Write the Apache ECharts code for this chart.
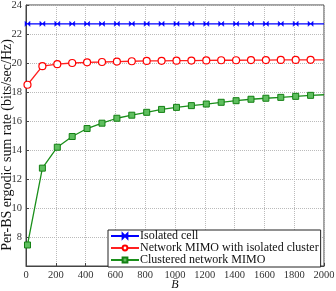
<!DOCTYPE html>
<html><head><meta charset="utf-8">
<script src="https://cdn.jsdelivr.net/npm/echarts@6/dist/echarts.min.js"></script>
<style>html,body{margin:0;padding:0;background:#fff}#c{width:336px;height:291px}</style>
</head><body><div id="c"></div>
<script>
var xVals = [10,110,210,310,410,510,610,710,810,910,1010,1110,1210,1310,1410,1510,1610,1710,1810,1910];
var isolatedCell = [22.7,22.7,22.7,22.7,22.7,22.7,22.7,22.7,22.7,22.7,22.7,22.7,22.7,22.7,22.7,22.7,22.7,22.7,22.7,22.7];
var isolatedCellEnd = 22.7;
var netMimo = [18.5,19.78,19.92,20.0,20.05,20.07,20.1,20.12,20.14,20.15,20.16,20.17,20.18,20.19,20.19,20.2,20.2,20.21,20.21,20.22];
var netMimoEnd = 20.22;
var clustered = [7.45,12.75,14.19,14.93,15.48,15.85,16.19,16.4,16.6,16.8,16.94,17.06,17.17,17.29,17.4,17.5,17.57,17.63,17.7,17.77];
var clusteredEnd = 17.81;
var seriesNames = ['Isolated cell','Network MIMO with isolated cluster','Clustered network MIMO'];
var yTitle = 'Per-BS ergodic sum rate (bits/sec/Hz)';
var xTitle = 'B\u0304';

function build(vals, endVal){
  var d = xVals.map(function(x,i){return [x, vals[i]];});
  d.push({value:[2000, endVal], symbol:'none'});
  return d;
}
var font = 'Liberation Serif, DejaVu Serif, serif';
var chart = echarts.init(document.getElementById('c'));
chart.setOption({
  animation:false,
  grid:{left:26,right:12,top:5,bottom:25,show:true,borderColor:'#444',borderWidth:1,
        containLabel:false, outerBoundsMode:'none'},
  graphic:[{
    type:'text', x:7, y:145, rotation:Math.PI/2,
    style:{text:yTitle, fontFamily:font, fontSize:14, fill:'#111', align:'center', verticalAlign:'middle'}
  }],
  legend:{
    left:108, top:230, width:215,
    orient:'vertical', itemGap:0, itemWidth:28, itemHeight:6,
    padding:[0,2,1,2],
    backgroundColor:'#fff', borderColor:'#222', borderWidth:1,
    textStyle:{fontFamily:font,fontSize:12,lineHeight:10.5,color:'#111',padding:[0,0,0,-4]},
    data:seriesNames
  },
  xAxis:{
    type:'value', min:0, max:2000, interval:200,
    name:xTitle, nameLocation:'middle', nameGap:13, nameMoveOverlap:false,
    nameTextStyle:{fontFamily:font,fontSize:12,fontStyle:'italic',color:'#111'},
    axisLine:{lineStyle:{color:'#444'}},
    axisTick:{inside:true,length:3,lineStyle:{color:'#444'}},
    axisLabel:{fontFamily:font,fontSize:10.5,color:'#333',margin:4,
      formatter:function(v){return String(v);}},
    splitLine:{show:true,lineStyle:{type:'dotted',color:'#bbb'}}
  },
  yAxis:{
    type:'value', min:6, max:24, interval:2,
    axisLine:{lineStyle:{color:'#444'}},
    axisTick:{inside:true,length:3,lineStyle:{color:'#444'}},
    axisLabel:{fontFamily:font,fontSize:10.5,color:'#333',margin:4,
      formatter:function(v){return v===6?'':String(v);}},
    splitLine:{show:true,lineStyle:{type:'dotted',color:'#bbb'}}
  },
  series:[
    {name:seriesNames[0],type:'line',data:build(isolatedCell,isolatedCellEnd),
     color:'#0000ff',lineStyle:{width:1.3,color:'#0000ff'},
     symbol:'path://M0,0L10,10L10,0L0,10Z',symbolSize:5,
     itemStyle:{color:'#0000ff',borderColor:'#0000ff',borderWidth:0.5}},
    {name:seriesNames[1],type:'line',data:build(netMimo,netMimoEnd),
     color:'#ff0000',lineStyle:{width:1.3,color:'#ff2020'},
     symbol:'circle',symbolSize:7,showAllSymbol:true,
     itemStyle:{color:'#fff',borderColor:'#ff0000',borderWidth:1.2}},
    {name:seriesNames[2],type:'line',data:build(clustered,clusteredEnd),
     color:'#1a8f1a',lineStyle:{width:1.3,color:'#1a8f1a'},
     symbol:'rect',symbolSize:6,showAllSymbol:true,
     itemStyle:{color:'#5fbf5f',borderColor:'#138013',borderWidth:1}}
  ]
});
</script></body></html>
